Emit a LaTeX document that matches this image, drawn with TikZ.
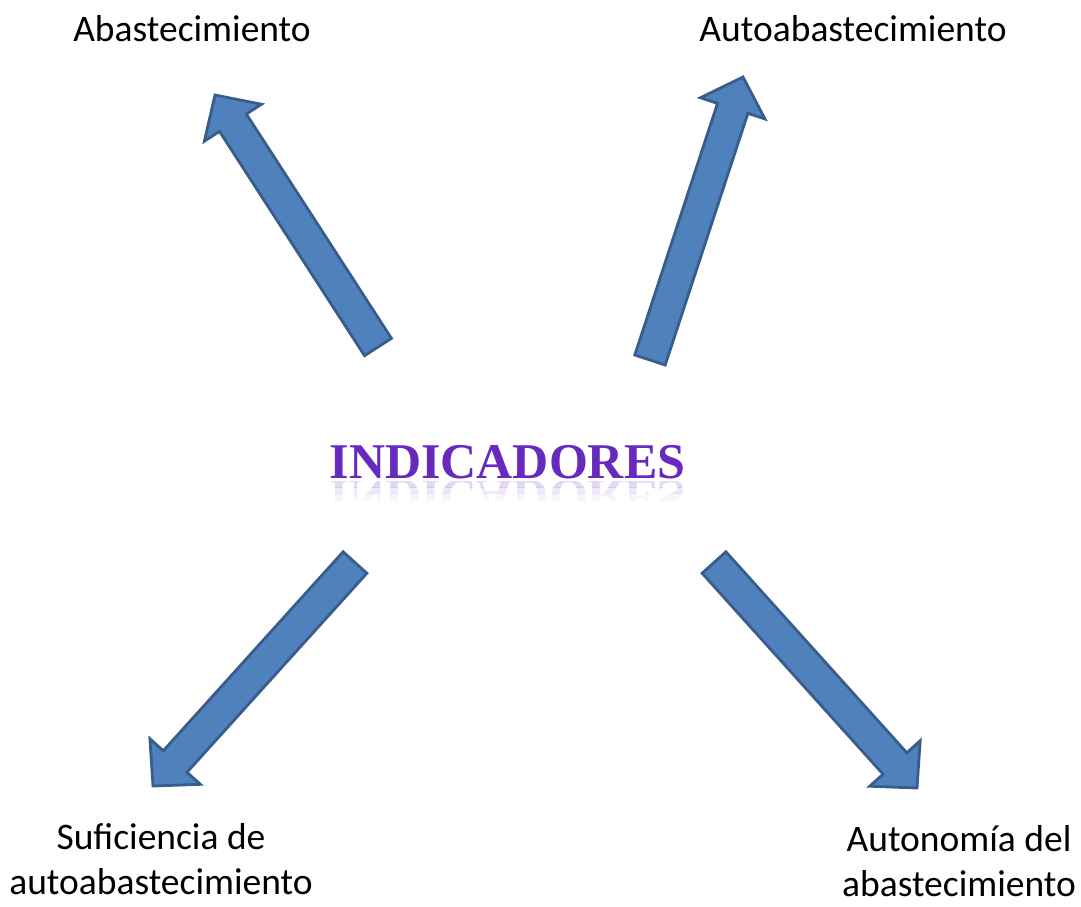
\documentclass[tikz,border=0pt]{standalone}
\usepackage{fontspec}
\setmainfont{Carlito}
\newfontfamily\titlefont{Liberation Serif}
\usepackage{tikz}
\usetikzlibrary{calc}

\definecolor{arrowblue}{HTML}{4F81BD}
\definecolor{arrowedge}{HTML}{385D8A}
\definecolor{titlepurple}{RGB}{104,42,190}

\tikzset{
    lbl/.style={font=\fontsize{37.5}{45}\selectfont, align=center, inner sep=0pt},
    titletxt/.style={font=\titlefont\bfseries\fontsize{50}{60}\selectfont, text=titlepurple, inner sep=0pt, anchor=base},
    fatarrow/.style={fill=arrowblue, draw=arrowedge, line width=2.8pt, line join=miter}
}

% block arrow from tail #1 to tip #2
\newcommand{\blockarrow}[2]{%
    \coordinate (#1h) at ($(#2)!33pt!(#1)$);
    \draw[fatarrow] ($(#1)!16pt!90:(#2)$) -- ($(#1h)!16pt!90:(#2)$)
        -- ($(#1h)!34pt!90:(#2)$) -- (#2) -- ($(#1h)!34pt!-90:(#2)$)
        -- ($(#1h)!16pt!-90:(#2)$) -- ($(#1)!16pt!-90:(#2)$) -- cycle;
}

\begin{document}
\begin{tikzpicture}[x=1pt,y=-1pt]
    \useasboundingbox (0,0) rectangle (1081,906);

    % Title with its reflection
    \node[titletxt] (ind) at (507.5,478) {INDICADORES};
    \foreach \ya/\yb/\op in {481/487/0.18, 487/493/0.11, 493/500/0.05} {
        \begin{scope}
            \clip (320,\ya) rectangle (700,\yb);
            \node[titletxt, yscale=-1, opacity=\op] at (507.5,480) {INDICADORES};
        \end{scope}
    }

    % Labels
    \node[lbl, anchor=base] (abast) at (192,41) {Abastecimiento};
    \node[lbl, anchor=base] (autoab) at (853,41) {Autoabastecimiento};
    \node[lbl, anchor=north] (sufic) at (161,823) {Suficiencia de\\autoabastecimiento};
    \node[lbl, anchor=north] (auton) at (959,825) {Autonomía del\\abastecimiento};

    % Arrow ends
    \coordinate (nw-tail) at (378,347);   \coordinate (nw-tip) at (215,95);
    \coordinate (ne-tail) at (650,360);   \coordinate (ne-tip) at (743,77);
    \coordinate (sw-tail) at (355,562.5); \coordinate (sw-tip) at (153,786);
    \coordinate (se-tail) at (714,562.5); \coordinate (se-tip) at (917,788);

    % Block arrows
    \foreach \d in {nw,ne,sw,se} {
        \blockarrow{\d-tail}{\d-tip}
    }
\end{tikzpicture}
\end{document}
